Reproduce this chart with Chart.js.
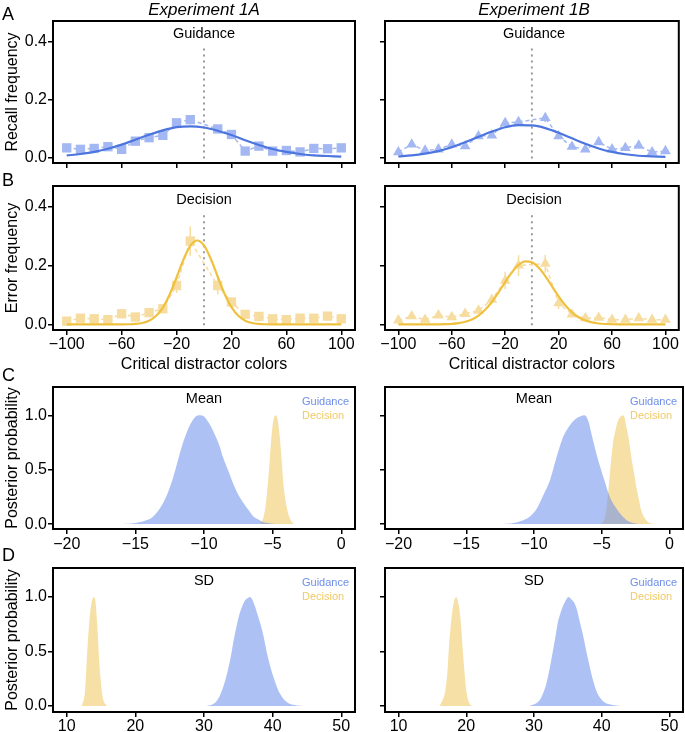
<!DOCTYPE html>
<html><head><meta charset="utf-8">
<script src="https://cdn.jsdelivr.net/npm/chart.js@4"></script>
<style>
html,body{margin:0;padding:0;background:#fff;width:685px;height:732px;overflow:hidden;position:relative;}
canvas{position:absolute;}
</style></head><body>
<script>
// ---------- DATA ----------
const colorsX = [-100,-90,-80,-70,-60,-50,-40,-30,-20,-10,10,20,30,40,50,60,70,80,90,100];
const recall1A = [0.034,0.029,0.032,0.038,0.029,0.057,0.069,0.077,0.120,0.131,0.099,0.080,0.023,0.040,0.023,0.025,0.020,0.032,0.031,0.034];
const recall1A_err = [0.004,0.004,0.004,0.005,0.005,0.006,0.007,0.008,0.012,0.016,0.012,0.010,0.006,0.006,0.005,0.005,0.004,0.005,0.005,0.005];
const recall1B = [0.019,0.046,0.025,0.029,0.046,0.040,0.074,0.077,0.120,0.123,0.137,0.074,0.038,0.029,0.054,0.029,0.034,0.042,0.019,0.023];
const recall1B_err = [0.004,0.006,0.005,0.005,0.006,0.006,0.008,0.009,0.012,0.013,0.014,0.010,0.007,0.006,0.007,0.005,0.005,0.006,0.004,0.005];
const error1A = [0.011,0.021,0.019,0.016,0.036,0.025,0.040,0.053,0.132,0.283,0.132,0.076,0.034,0.027,0.019,0.016,0.021,0.021,0.028,0.019];
const error1A_err = [0.004,0.005,0.005,0.005,0.007,0.006,0.008,0.012,0.025,0.050,0.030,0.015,0.008,0.006,0.005,0.005,0.005,0.005,0.006,0.005];
const error1B = [0.014,0.028,0.016,0.031,0.025,0.036,0.047,0.084,0.149,0.200,0.206,0.072,0.034,0.021,0.023,0.016,0.016,0.021,0.016,0.016];
const error1B_err = [0.004,0.006,0.004,0.006,0.005,0.007,0.009,0.014,0.030,0.035,0.030,0.020,0.008,0.006,0.006,0.005,0.005,0.005,0.004,0.004];

const curveX10 = [-100,-90,-80,-70,-60,-50,-40,-30,-20,-10,0,10,20,30,40,50,60,70,80,90,100];
const fitGuid1A = [0.008,0.013,0.020,0.031,0.045,0.062,0.079,0.094,0.105,0.108,0.104,0.093,0.078,0.060,0.044,0.030,0.020,0.013,0.008,0.006,0.004];
const fitGuid1B = [0.005,0.008,0.014,0.023,0.036,0.053,0.072,0.090,0.105,0.112,0.111,0.102,0.086,0.067,0.048,0.032,0.020,0.012,0.007,0.005,0.003];
const curveX5 = [-100,-95,-90,-85,-80,-75,-70,-65,-60,-55,-50,-45,-40,-35,-30,-25,-20,-15,-10,-5,0,5,10,15,20,25,30,35,40,45,50,55,60,65,70,75,80,85,90,95,100];
const fitDec1A = [0,0,0,0,0,0,0,0,0.0001,0.0005,0.0016,0.0047,0.0123,0.0283,0.0571,0.1017,0.1593,0.2197,0.2667,0.285,0.2681,0.222,0.1618,0.1038,0.0586,0.0291,0.0127,0.0049,0.0017,0.0005,0.0001,0,0,0,0,0,0,0,0,0,0];
const fitDec1B = [0,0,0,0,0,0,0.0003,0.0008,0.0019,0.0043,0.0088,0.0169,0.0301,0.0496,0.0762,0.1086,0.1438,0.1769,0.2020,0.2143,0.2111,0.1932,0.1643,0.1297,0.0951,0.0648,0.0410,0.0241,0.0131,0.0067,0.0031,0.0014,0.0006,0.0002,0,0,0,0,0,0,0];
const vlineX = [0,0];
const vlineY = [0,0.385];

// posterior of the mean
const meanG1A_x = [-16.2,-15.0,-14.3,-13.7,-13.0,-12.6,-12.2,-11.6,-11.1,-10.6,-10.3,-10.0,-9.8,-9.5,-9.2,-8.9,-8.6,-8.2,-7.9,-7.5,-7.1,-6.7,-6.4,-6.0,-5.7,-5.2,-4.7];
const meanG1A_y = [0,0.01,0.03,0.07,0.19,0.30,0.45,0.72,0.89,0.99,1.0,0.99,0.96,0.90,0.82,0.73,0.61,0.48,0.38,0.27,0.19,0.12,0.07,0.04,0.02,0.008,0];
const meanD1A_x = [-5.95,-5.7,-5.5,-5.33,-5.2,-5.09,-4.95,-4.78,-4.62,-4.48,-4.35,-4.24,-4.1,-4.0,-3.8,-3.6,-3.4];
const meanD1A_y = [0,0.05,0.18,0.40,0.60,0.80,0.95,1.0,0.95,0.80,0.60,0.40,0.25,0.17,0.07,0.02,0];
const meanG1B_x = [-12.5,-11.5,-10.9,-10.3,-9.8,-9.3,-8.8,-8.3,-7.85,-7.4,-7.0,-6.6,-6.26,-6.0,-5.7,-5.4,-5.1,-4.8,-4.4,-4.0,-3.6,-3.2,-2.8,-2.2];
const meanG1B_y = [0,0.01,0.03,0.07,0.14,0.27,0.41,0.63,0.80,0.90,0.96,0.99,1.0,0.95,0.80,0.65,0.52,0.40,0.25,0.16,0.09,0.04,0.015,0];
const meanD1B_x = [-5.2,-4.9,-4.66,-4.42,-4.17,-3.95,-3.8,-3.6,-3.44,-3.3,-3.19,-3.0,-2.82,-2.63,-2.45,-2.25,-2.09,-1.85,-1.6,-1.1];
const meanD1B_y = [0,0.02,0.13,0.43,0.74,0.88,0.95,0.99,1.0,0.97,0.90,0.78,0.62,0.48,0.34,0.22,0.13,0.06,0.02,0];
// posterior of the SD
const sdD1A_x = [12.2,12.67,13.0,13.2,13.4,13.7,14.0,14.2,14.37,14.55,14.7,14.9,15.1,15.35,15.6,15.9];
const sdD1A_y = [0,0.14,0.51,0.70,0.85,0.97,1.0,0.95,0.82,0.63,0.45,0.27,0.14,0.05,0.02,0];
const sdG1A_x = [30.4,31.4,32.0,32.6,33.2,33.8,34.5,35.2,35.6,36.0,36.4,36.7,37.0,37.4,37.8,38.2,38.6,39.3,40.1,40.6,41.1,41.8,42.5,43.5,44.5];
const sdG1A_y = [0,0.02,0.06,0.14,0.26,0.42,0.66,0.85,0.92,0.97,0.99,1.0,0.98,0.92,0.84,0.76,0.66,0.45,0.27,0.18,0.11,0.05,0.02,0.005,0];
const sdD1B_x = [16.1,16.9,17.2,17.4,17.65,17.9,18.2,18.5,18.75,19.0,19.25,19.5,19.75,20.0,20.5,21.0];
const sdD1B_y = [0,0.14,0.30,0.50,0.70,0.85,0.96,1.0,0.96,0.88,0.72,0.50,0.30,0.14,0.02,0];
const sdG1B_x = [29.4,30.8,31.3,31.8,32.3,32.8,33.2,33.5,33.9,34.3,34.7,35.1,35.5,36.0,36.4,36.7,37.2,37.7,38.2,38.7,39.2,39.7,40.4,41.1,42.6];
const sdG1B_y = [0,0.05,0.11,0.20,0.34,0.51,0.65,0.76,0.85,0.92,0.97,1.0,0.98,0.94,0.87,0.79,0.66,0.51,0.37,0.24,0.14,0.08,0.035,0.015,0];

// tick labels
const ticksColor = [-100,-60,-20,20,60,100];
const ticksMean = [-20,-15,-10,-5,0];
const ticksSD = [10,20,30,40,50];
const ticksFreq = [0,0.2,0.4];
const ticksPost = [0,0.5,1];

// ---------- STYLE ----------
const FONT = "'Liberation Sans', Helvetica, Arial, sans-serif";
const BLUE_PT = '#a3b8f2', BLUE_LN = '#4d75de', YEL_PT = '#f6dc9f', YEL_LN = '#efc13f';
const BLUE_FILL = 'rgba(106,142,235,0.55)', YEL_FILL = 'rgba(239,199,93,0.55)';
const BLUE_TXT = '#6d8de9', YEL_TXT = '#f0ca68';

const COLS = [{cx:0, cw:370, L:53, R:355}, {cx:360, cw:325, L:385, R:683}];
const ROWS = {A:{cy:0,ch:185,T:21,B:163}, B:{cy:172,ch:203,T:186,B:330}, C:{cy:355,ch:200,T:387,B:529}, D:{cy:545,ch:187,T:568,B:712}};

const pts = (xs, ys) => xs.map((x,i)=>({x:x, y:ys[i]}));
const minus = v => (v < 0 ? '\u2212' : '') + Math.abs(v);

function pointSet(ys, style, color) {
  return {data: pts(colorsX, ys), order:1, showLine:true, borderColor:color, borderWidth:1.5, borderDash:[4,3],
    pointStyle:style, pointRadius: style==='rect'?6.6:6.2, pointBackgroundColor:color, pointBorderWidth:0, fill:false};
}
function curveSet(xs, ys, color) {
  return {data: pts(xs, ys), order:0, borderColor:color, borderWidth:2.2, pointRadius:0, cubicInterpolationMode:'monotone', fill:false};
}
function vlineSet() {
  return {data: pts(vlineX, vlineY), order:2, borderColor:'#9a9a9a', borderWidth:2, borderDash:[0.5,5.5], borderCapStyle:'round', pointRadius:0, fill:false};
}
function densSet(xs, ys, color, order) {
  return {data: pts(xs, ys), order:order, borderWidth:0, borderColor:'rgba(0,0,0,0)', backgroundColor:color, pointRadius:0, fill:'origin', cubicInterpolationMode:'monotone'};
}

function panel(o) {
  const col = COLS[o.col], row = ROWS[o.row];
  const c = document.createElement('canvas');
  c.width = col.cw; c.height = row.ch;
  c.style.left = col.cx+'px'; c.style.top = row.cy+'px';
  c.style.width = col.cw+'px'; c.style.height = row.ch+'px';
  document.body.appendChild(c);
  const yW = col.L - col.cx, xH = row.cy + row.ch - row.B;
  const plug = {
    id:'annot'+o.row+o.col,
    beforeDatasetsDraw(chart) {
      if (!o.err) return;
      const ctx = chart.ctx, xs = chart.scales.x, ys = chart.scales.y;
      ctx.save(); ctx.strokeStyle = o.err.color; ctx.lineWidth = 1.5;
      colorsX.forEach((xv,i)=>{
        const px = xs.getPixelForValue(xv);
        ctx.beginPath();
        ctx.moveTo(px, ys.getPixelForValue(o.err.y[i]-o.err.e[i]));
        ctx.lineTo(px, ys.getPixelForValue(o.err.y[i]+o.err.e[i]));
        ctx.stroke();
      });
      ctx.restore();
    },
    afterDraw(chart) {
      const ctx = chart.ctx, a = chart.chartArea;
      ctx.save();
      ctx.strokeStyle = '#000'; ctx.lineWidth = 2;
      ctx.strokeRect(a.left, a.top, a.right-a.left, a.bottom-a.top);
      (o.texts||[]).forEach(t=>{
        ctx.font = (t.style||'') + ' ' + t.size + 'px ' + FONT;
        ctx.fillStyle = t.color || '#000';
        ctx.textAlign = t.align || 'center';
        ctx.textBaseline = 'middle';
        ctx.fillText(t.text, t.x - col.cx, t.y - row.cy);
      });
      ctx.restore();
    }
  };
  new Chart(c, {
    type:'line',
    data:{datasets:o.datasets},
    plugins:[plug],
    options:{
      responsive:false, animation:false, events:[],
      layout:{padding:{top:row.T-row.cy, right:col.cx+col.cw-col.R, left:0, bottom:0}},
      plugins:{legend:{display:false}, tooltip:{enabled:false}, title:{display:false}},
      scales:{
        x:{type:'linear', min:o.xMin, max:o.xMax,
          afterBuildTicks: s=>{ s.ticks = o.xTicks.map(v=>({value:v})); },
          afterFit: s=>{ s.height = xH; },
          grid:{display:true, drawOnChartArea:false, drawTicks:true, tickLength:5, color:'#000', lineWidth:1.5},
          border:{display:false},
          ticks:{display:!!o.xLabels, color:'#000', font:{family:FONT, size:16, lineHeight:1}, padding:o.xPad||0, maxRotation:0, autoSkip:false, callback:v=>minus(v)},
          title:{display:!!o.xTitle, text:o.xTitle||'', color:'#000', font:{family:FONT, size:16, lineHeight:1.2}, padding:{top:0, bottom:0.6}}
        },
        y:{type:'linear', min:o.yMin, max:o.yMax,
          afterBuildTicks: s=>{ s.ticks = o.yTicks.map(v=>({value:v})); },
          afterFit: s=>{ s.width = yW; },
          grid:{display:true, drawOnChartArea:false, drawTicks:true, tickLength:5, color:'#000', lineWidth:1.5},
          border:{display:false},
          ticks:{display:o.col===0, color:'#000', font:{family:FONT, size:16, lineHeight:1}, padding:1, autoSkip:false, callback:v=>Number(v).toFixed(1)},
          title:{display:o.col===0, text:o.yTitle||'', color:'#000', font:{family:FONT, size:16, lineHeight:1.2}, padding:{top:3.4, bottom:0}}
        }
      }
    }
  });
}

const CX = [204, 534], LEGX = [302, 630];

// Row A
panel({col:0, row:'A', xMin:-110, xMax:110, yMin:-0.018, yMax:0.47, xTicks:ticksColor, yTicks:ticksFreq, yTitle:'Recall frequency',
  datasets:[curveSet(curveX10, fitGuid1A, BLUE_LN), pointSet(recall1A,'rect',BLUE_PT), vlineSet()],
  err:{y:recall1A, e:recall1A_err, color:BLUE_PT},
  texts:[{text:'Experiment 1A', x:CX[0], y:10, size:17, style:'italic'}, {text:'A', x:2, y:15, size:18, align:'left'}, {text:'Guidance', x:CX[0], y:34, size:14.5}]});
panel({col:1, row:'A', xMin:-110, xMax:110, yMin:-0.018, yMax:0.47, xTicks:ticksColor, yTicks:ticksFreq,
  datasets:[curveSet(curveX10, fitGuid1B, BLUE_LN), pointSet(recall1B,'triangle',BLUE_PT), vlineSet()],
  err:{y:recall1B, e:recall1B_err, color:BLUE_PT},
  texts:[{text:'Experiment 1B', x:CX[1], y:10, size:17, style:'italic'}, {text:'Guidance', x:CX[1], y:34, size:14.5}]});
// Row B
panel({col:0, row:'B', xMin:-110, xMax:110, yMin:-0.019, yMax:0.47, xTicks:ticksColor, yTicks:ticksFreq, yTitle:'Error frequency', xLabels:true, xPad:2, xTitle:'Critical distractor colors',
  datasets:[curveSet(curveX5, fitDec1A, YEL_LN), pointSet(error1A,'rect',YEL_PT), vlineSet()],
  err:{y:error1A, e:error1A_err, color:YEL_PT},
  texts:[{text:'B', x:2, y:181, size:18, align:'left'}, {text:'Decision', x:CX[0], y:200, size:14.5}]});
panel({col:1, row:'B', xMin:-110, xMax:110, yMin:-0.019, yMax:0.47, xTicks:ticksColor, yTicks:ticksFreq, xLabels:true, xPad:2, xTitle:'Critical distractor colors',
  datasets:[curveSet(curveX5, fitDec1B, YEL_LN), pointSet(error1B,'triangle',YEL_PT), vlineSet()],
  err:{y:error1B, e:error1B_err, color:YEL_PT},
  texts:[{text:'Decision', x:CX[1], y:200, size:14.5}]});
// Row C
function legendTexts(col, y1) {
  return [{text:'Guidance', x:LEGX[col], y:y1, size:11, align:'left', color:BLUE_TXT}, {text:'Decision', x:LEGX[col], y:y1+14, size:11, align:'left', color:YEL_TXT}];
}
panel({col:0, row:'C', xMin:-21, xMax:1, yMin:-0.045, yMax:1.26, xTicks:ticksMean, yTicks:ticksPost, yTitle:'Posterior probability', xLabels:true, xPad:3,
  datasets:[densSet(meanG1A_x, meanG1A_y, BLUE_FILL, 0), densSet(meanD1A_x, meanD1A_y, YEL_FILL, 1)],
  texts:[{text:'C', x:2, y:376, size:18, align:'left'}, {text:'Mean', x:CX[0], y:399, size:14.5}].concat(legendTexts(0, 402))});
panel({col:1, row:'C', xMin:-21, xMax:1, yMin:-0.045, yMax:1.26, xTicks:ticksMean, yTicks:ticksPost, xLabels:true, xPad:3,
  datasets:[densSet(meanG1B_x, meanG1B_y, BLUE_FILL, 0), densSet(meanD1B_x, meanD1B_y, YEL_FILL, 1)],
  texts:[{text:'Mean', x:CX[1], y:399, size:14.5}].concat(legendTexts(1, 402))});
// Row D
panel({col:0, row:'D', xMin:8, xMax:52, yMin:-0.055, yMax:1.266, xTicks:ticksSD, yTicks:ticksPost, yTitle:'Posterior probability', xLabels:true, xPad:2,
  datasets:[densSet(sdG1A_x, sdG1A_y, BLUE_FILL, 0), densSet(sdD1A_x, sdD1A_y, YEL_FILL, 1)],
  texts:[{text:'D', x:2, y:556, size:18, align:'left'}, {text:'SD', x:CX[0], y:581, size:14.5}].concat(legendTexts(0, 583))});
panel({col:1, row:'D', xMin:8, xMax:52, yMin:-0.055, yMax:1.266, xTicks:ticksSD, yTicks:ticksPost, xLabels:true, xPad:2,
  datasets:[densSet(sdG1B_x, sdG1B_y, BLUE_FILL, 0), densSet(sdD1B_x, sdD1B_y, YEL_FILL, 1)],
  texts:[{text:'SD', x:CX[1], y:581, size:14.5}].concat(legendTexts(1, 583))});
</script>
</body></html>
